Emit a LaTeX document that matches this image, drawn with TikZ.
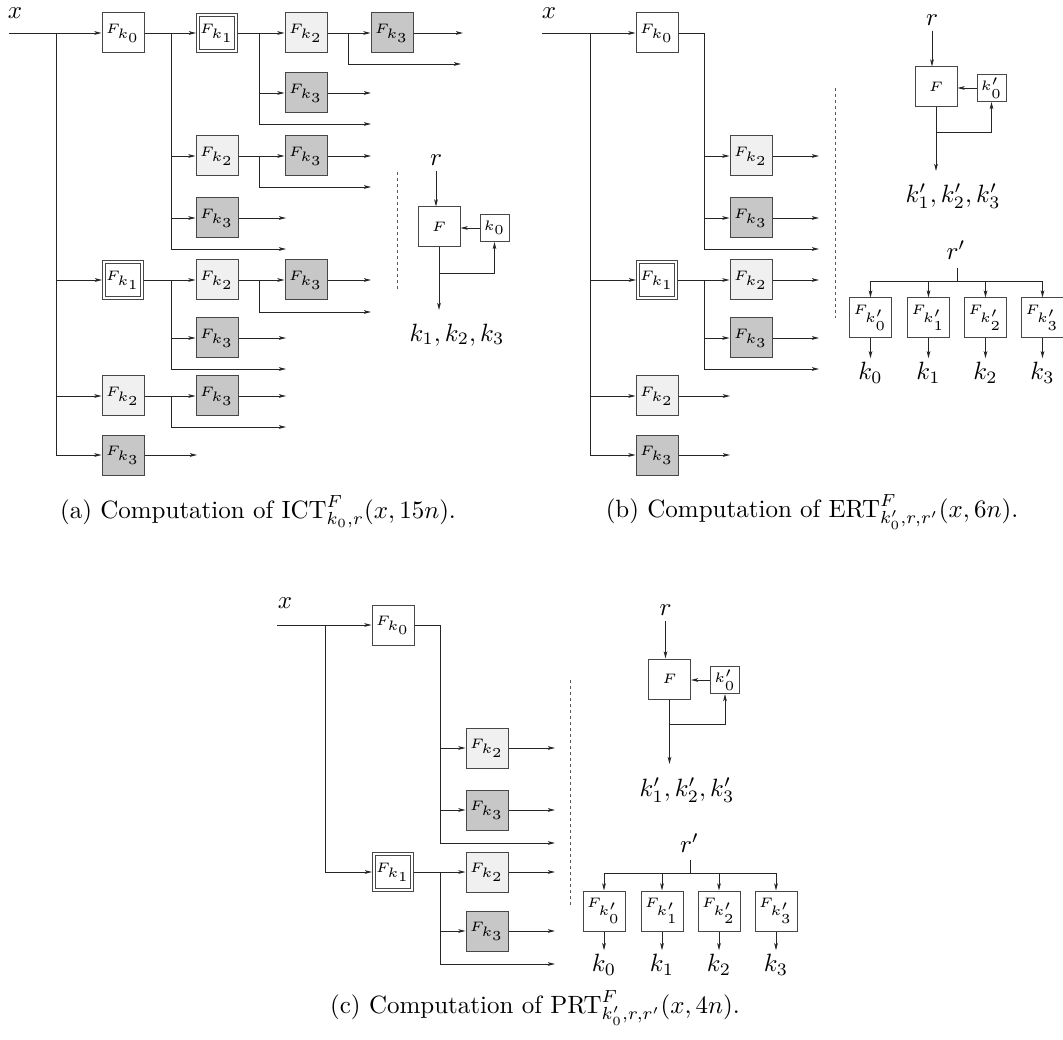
\documentclass[tikz,border=0pt]{standalone}
\usepackage{graphicx}
\usetikzlibrary{arrows.meta}
\newcommand{\sbx}[1]{\scalebox{2.75}{\tiny$#1$}}
\newcommand{\lbl}[1]{\scalebox{2.5}{$#1$}}
\newcommand{\cpt}[1]{\scalebox{2.5}{#1}}
\begin{document}
\begin{tikzpicture}[x=1pt,y=-1pt,
 fbox/.style={draw=black!72, line width=1pt, minimum width=42pt, minimum height=40pt, inner sep=0pt, fill=white},
 fkii/.style={fbox, fill=black!6},
 fkiii/.style={fbox, fill=black!22},
 fki/.style={fbox, double=white, double distance=1.8pt, minimum width=38pt, minimum height=36pt, outer sep=2pt},
 kbox/.style={fbox, minimum width=29pt, minimum height=27pt},
 ln/.style={draw=black!85, line width=0.95pt},
 arr/.style={ln, -{Stealth[length=7pt,width=3.6pt,inset=1.5pt]}},
 dsh/.style={draw=black!65, line width=0.9pt, dash pattern=on 3pt off 3pt},
 lab/.style={inner sep=0pt},
]
\useasboundingbox (0,0) rectangle (1063,1040);

% ================= (a) =================
\node[lab] (ax) at (15,13) {\lbl{x}};
\coordinate (ain) at (9,33);
\coordinate (aT) at (56,33);
\coordinate (aTb) at (56,455);
\coordinate (aC1) at (171,33);
\coordinate (aC2) at (259,33);
\coordinate (aC3) at (348,33);
\coordinate (aE1) at (197,33);
\coordinate (aE2) at (286,33);
\coordinate (aE3) at (371,33);
\coordinate (aE4) at (463,33);
\node[fbox] (a0) at (123,33) {\sbx{F_{k_0}}};
\node[fki] (a01) at (217,33) {\sbx{F_{k_1}}};
\node[fkii] (a012) at (306,33) {\sbx{F_{k_2}}};
\node[fkiii] (a0123) at (392,33) {\sbx{F_{k_3}}};
\node[fkiii] (a013) at (306,93) {\sbx{F_{k_3}}};
\node[fkii] (a02) at (217,156) {\sbx{F_{k_2}}};
\node[fkiii] (a023) at (306,156) {\sbx{F_{k_3}}};
\node[fkiii] (a03) at (217,218) {\sbx{F_{k_3}}};
\node[fki] (a1) at (123,280) {\sbx{F_{k_1}}};
\node[fkii] (a12) at (217,280) {\sbx{F_{k_2}}};
\node[fkiii] (a123) at (306,280) {\sbx{F_{k_3}}};
\node[fkiii] (a13) at (217,338) {\sbx{F_{k_3}}};
\node[fkii] (a2) at (123,396) {\sbx{F_{k_2}}};
\node[fkiii] (a23) at (217,396) {\sbx{F_{k_3}}};
\node[fkiii] (a3) at (123,455) {\sbx{F_{k_3}}};
\coordinate (aL1) at (461,64);
\coordinate (aL2) at (371,124);
\coordinate (aL3) at (371,187);
\coordinate (aL4) at (286,249);
\coordinate (aL5) at (371,312);
\coordinate (aL6) at (286,369);
\coordinate (aL7) at (286,427);
\draw[ln] (aT) -- (aTb);
\draw[arr] (ain) -- (a0);
\draw[arr] (a0) -- (a01);
\draw[arr] (a01) -- (a012);
\draw[arr] (a012) -- (a0123);
\draw[arr] (a0123) -- (aE4);
\draw[arr] (aC3) |- (aL1);
\draw[arr] (aC2) |- (aL2);
\draw[arr] (a013 -| aC2) -- (a013);
\draw[arr] (a013) -- (a013 -| aE3);
\draw[arr] (aC1) |- (aL4);
\draw[arr] (a02 -| aC1) -- (a02);
\draw[arr] (a02) -- (a023);
\draw[arr] (a023) -- (a023 -| aE3);
\draw[arr] (a02 -| aC2) |- (aL3);
\draw[arr] (a03 -| aC1) -- (a03);
\draw[arr] (a03) -- (a03 -| aE2);
\draw[arr] (a1 -| aT) -- (a1);
\draw[arr] (a1) -- (a12);
\draw[arr] (a12) -- (a123);
\draw[arr] (a123) -- (a123 -| aE3);
\draw[arr] (a12 -| aC2) |- (aL5);
\draw[arr] (a1 -| aC1) |- (aL6);
\draw[arr] (a13 -| aC1) -- (a13);
\draw[arr] (a13) -- (a13 -| aE2);
\draw[arr] (a2 -| aT) -- (a2);
\draw[arr] (a2) -- (a23);
\draw[arr] (a23) -- (a23 -| aE2);
\draw[arr] (a2 -| aC1) |- (aL7);
\draw[arr] (a3 -| aT) -- (a3);
\draw[arr] (a3) -- (a3 -| aE1);
% right block (a)
\node[fbox] (aF) at (439,227) {\sbx{F}};
\node[kbox] (ak) at (494.5,228) {\sbx{k_0}};
\node[lab] (ar) at (436,160) {\lbl{r}};
\draw[arr, shorten <=5pt] (ar) -- (ar |- aF.north);
\draw[arr] (ak.west) -- (ak.west -| aF.east);
\coordinate (aout) at (439,310);
\coordinate (afb) at (439,273);
\draw[arr] (aF) -- (aout);
\draw[arr] (afb) -| (ak.south);
\node[lab] (akl) at (457,335) {\lbl{k_1,k_2,k_3}};
\coordinate (ad1) at (397,172);
\coordinate (ad2) at (397,290);
\draw[dsh] (ad1) -- (ad2);

% ================= (b) =================
\node[lab] (bx) at (549,13) {\lbl{x}};
\coordinate (bin) at (542,33);
\coordinate (bT) at (590,33);
\coordinate (bTb) at (590,455);
\coordinate (bC1) at (704,33);
\coordinate (bE1) at (730,33);
\coordinate (bE2) at (819,33);
\node[fbox] (b0) at (657,33) {\sbx{F_{k_0}}};
\node[fkii] (b02) at (751,156) {\sbx{F_{k_2}}};
\node[fkiii] (b03) at (751,218) {\sbx{F_{k_3}}};
\node[fki] (b1) at (657,280) {\sbx{F_{k_1}}};
\node[fkii] (b12) at (751,280) {\sbx{F_{k_2}}};
\node[fkiii] (b13) at (751,338) {\sbx{F_{k_3}}};
\node[fkii] (b2) at (657,396) {\sbx{F_{k_2}}};
\node[fkiii] (b3) at (657,455) {\sbx{F_{k_3}}};
\coordinate (bL1) at (819,249);
\coordinate (bL2) at (819,369);
\draw[ln] (bT) -- (bTb);
\draw[arr] (bin) -- (b0);
\draw[arr] (b0.east) -- (bC1) |- (bL1);
\draw[arr] (b02 -| bC1) -- (b02);
\draw[arr] (b02) -- (b02 -| bE2);
\draw[arr] (b03 -| bC1) -- (b03);
\draw[arr] (b03) -- (b03 -| bE2);
\draw[arr] (b1 -| bT) -- (b1);
\draw[arr] (b1) -- (b12);
\draw[arr] (b12) -- (b12 -| bE2);
\draw[arr] (b1 -| bC1) |- (bL2);
\draw[arr] (b13 -| bC1) -- (b13);
\draw[arr] (b13) -- (b13 -| bE2);
\draw[arr] (b2 -| bT) -- (b2);
\draw[arr] (b2) -- (b2 -| bE1);
\draw[arr] (b3 -| bT) -- (b3);
\draw[arr] (b3) -- (b3 -| bE1);
\coordinate (bd1) at (835,88);
\coordinate (bd2) at (835,318);
\draw[dsh] (bd1) -- (bd2);
% right block (b)
\node[fbox] (bF) at (936,87) {\sbx{F}};
\node[kbox] (bk) at (991.5,88) {\sbx{k'_0}};
\node[lab] (br) at (932,20) {\lbl{r}};
\draw[arr, shorten <=5pt] (br) -- (br |- bF.north);
\draw[arr] (bk.west) -- (bk.west -| bF.east);
\coordinate (bout) at (936,171);
\coordinate (bfb) at (936,132);
\draw[arr] (bF) -- (bout);
\draw[arr] (bfb) -| (bk.south);
\node[lab] (bkl) at (953,196) {\lbl{k'_1,k'_2,k'_3}};
\node[lab] (brr) at (956,250) {\lbl{r'}};
\coordinate (bt1) at (957,268);
\coordinate (bt2) at (957,281);
\draw[ln] (bt1) -- (bt2);
\node[fbox] (bq0) at (870.5,318) {\sbx{F_{k'_0}}};
\node[fbox] (bq1) at (928.5,318) {\sbx{F_{k'_1}}};
\node[fbox] (bq2) at (985.5,318) {\sbx{F_{k'_2}}};
\node[fbox] (bq3) at (1042.5,318) {\sbx{F_{k'_3}}};
\coordinate (bh0) at (870.5,281);
\coordinate (bh3) at (1042.5,281);
\draw[ln] (bh0) -- (bh3);
\foreach \i in {0,1,2,3} {
  \draw[arr] (bq\i |- bh0) -- (bq\i);
}
\node[lab] (bo0) at (870.5,373) {\lbl{k_0}};
\node[lab] (bo1) at (928.5,373) {\lbl{k_1}};
\node[lab] (bo2) at (985.5,373) {\lbl{k_2}};
\node[lab] (bo3) at (1042.5,373) {\lbl{k_3}};
\foreach \i in {0,1,2,3} {
  \draw[arr, shorten >=4pt] (bq\i) -- (bo\i);
}

% ================= (c) =================
\node[lab] (cx) at (285,603) {\lbl{x}};
\coordinate (cin) at (277,625);
\coordinate (cT) at (325,625);
\coordinate (cTb) at (325,872);
\coordinate (cC1) at (440,625);
\coordinate (cE2) at (555,625);
\node[fbox] (c0) at (393,625) {\sbx{F_{k_0}}};
\node[fkii] (c02) at (487,748) {\sbx{F_{k_2}}};
\node[fkiii] (c03) at (487,810) {\sbx{F_{k_3}}};
\node[fki] (c1) at (393,872) {\sbx{F_{k_1}}};
\node[fkii] (c12) at (487,872) {\sbx{F_{k_2}}};
\node[fkiii] (c13) at (487,931) {\sbx{F_{k_3}}};
\coordinate (cL1) at (555,843);
\coordinate (cL2) at (555,964);
\draw[ln] (cT) -- (cTb);
\draw[arr] (cin) -- (c0);
\draw[arr] (c0.east) -- (cC1) |- (cL1);
\draw[arr] (c02 -| cC1) -- (c02);
\draw[arr] (c02) -- (c02 -| cE2);
\draw[arr] (c03 -| cC1) -- (c03);
\draw[arr] (c03) -- (c03 -| cE2);
\draw[arr] (c1 -| cT) -- (c1);
\draw[arr] (c1) -- (c12);
\draw[arr] (c12) -- (c12 -| cE2);
\draw[arr] (c1 -| cC1) |- (cL2);
\draw[arr] (c13 -| cC1) -- (c13);
\draw[arr] (c13) -- (c13 -| cE2);
\coordinate (cd1) at (570,680);
\coordinate (cd2) at (570,907);
\draw[dsh] (cd1) -- (cd2);
% right block (c)
\node[fbox] (cF) at (669.5,679) {\sbx{F}};
\node[kbox] (ck) at (725,680) {\sbx{k'_0}};
\node[lab] (cr) at (665.5,610) {\lbl{r}};
\draw[arr, shorten <=5pt] (cr) -- (cr |- cF.north);
\draw[arr] (ck.west) -- (ck.west -| cF.east);
\coordinate (cout) at (669.5,764);
\coordinate (cfb) at (669.5,724);
\draw[arr] (cF) -- (cout);
\draw[arr] (cfb) -| (ck.south);
\node[lab] (ckl) at (687,790) {\lbl{k'_1,k'_2,k'_3}};
\node[lab] (crr) at (689.5,843) {\lbl{r'}};
\coordinate (ct1) at (690.5,860);
\coordinate (ct2) at (690.5,873);
\draw[ln] (ct1) -- (ct2);
\node[fbox] (cq0) at (604,911) {\sbx{F_{k'_0}}};
\node[fbox] (cq1) at (662,911) {\sbx{F_{k'_1}}};
\node[fbox] (cq2) at (719,911) {\sbx{F_{k'_2}}};
\node[fbox] (cq3) at (776,911) {\sbx{F_{k'_3}}};
\coordinate (ch0) at (604,873);
\coordinate (ch3) at (776,873);
\draw[ln] (ch0) -- (ch3);
\foreach \i in {0,1,2,3} {
  \draw[arr] (cq\i |- ch0) -- (cq\i);
}
\node[lab] (co0) at (604,965) {\lbl{k_0}};
\node[lab] (co1) at (662,965) {\lbl{k_1}};
\node[lab] (co2) at (719,965) {\lbl{k_2}};
\node[lab] (co3) at (776,965) {\lbl{k_3}};
\foreach \i in {0,1,2,3} {
  \draw[arr, shorten >=4pt] (cq\i) -- (co\i);
}

% captions
\node[lab] (capa) at (258,512) {\cpt{(a) Computation of $\mathrm{ICT}^F_{k_0,r}(x,15n)$.}};
\node[lab] (capb) at (812,512) {\cpt{(b) Computation of $\mathrm{ERT}^F_{k'_0,r,r'}(x,6n)$.}};
\node[lab] (capc) at (535,1008) {\cpt{(c) Computation of $\mathrm{PRT}^F_{k'_0,r,r'}(x,4n)$.}};
\end{tikzpicture}
\end{document}
